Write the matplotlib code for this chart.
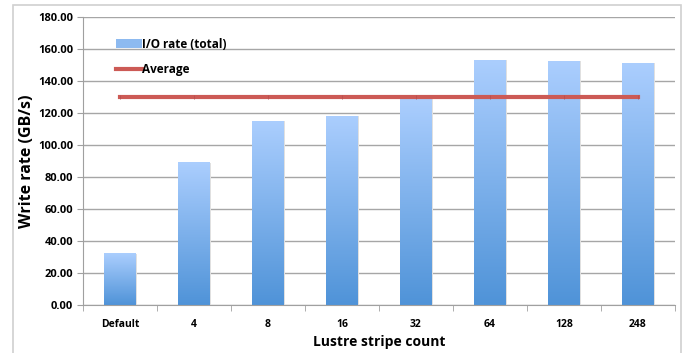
import numpy as np
import matplotlib.pyplot as plt
from matplotlib.colors import LinearSegmentedColormap
from matplotlib.patches import Patch, Rectangle
from matplotlib.lines import Line2D

categories = ["Default", "4", "8", "16", "32", "64", "128", "248"]
io_rate = [32.0, 89.0, 115.0, 118.0, 128.5, 153.0, 152.5, 151.2]
average = 129.7

plt.rcParams["font.family"] = ["Open Sans", "DejaVu Sans"]
plt.rcParams["font.weight"] = "bold"

fig = plt.figure(figsize=(6.85, 3.53), dpi=100)
ax = fig.add_axes([83 / 685, 1 - 305 / 353, 592 / 685, 288 / 353])

# outer chart frame
fig.patches.append(Rectangle((13 / 685, -0.02), 668 / 685, 1 - 5 / 353 + 0.02,
                             transform=fig.transFigure, fill=False,
                             edgecolor="#d0d0d0", lw=1.2))

x = np.arange(len(categories))
width = 0.42
cmap = LinearSegmentedColormap.from_list("bar", ["#4f93d8", "#abcefe"])
grad = np.linspace(0, 1, 256).reshape(-1, 1)
for xi, h in zip(x, io_rate):
    ax.imshow(grad, cmap=cmap, origin="lower", aspect="auto",
              extent=[xi - width / 2, xi + width / 2, 0, h], zorder=2)
    # faint shadow
    ax.add_patch(Rectangle((xi + width / 2, 0), 0.02, h, color="#e0e0e0", zorder=1.5, lw=0))

ax.plot(x, [average] * len(x), color="#cc5a55", lw=3, zorder=3,
        marker="|", markersize=3, markeredgecolor="#b85050", markeredgewidth=0.6)

ax.set_xlim(-0.5, 7.5)
ax.set_ylim(0, 180)
ax.set_yticks(np.arange(0, 181, 20))
ax.set_yticklabels([f"{v:.2f}" for v in np.arange(0, 181, 20)], fontsize=8, fontweight="bold")
ax.set_xticks(x)
ax.set_xticklabels(categories, fontsize=7.5, fontweight="bold")
ax.set_xticks(np.arange(-0.5, 8.0, 1), minor=True)
ax.tick_params(axis="x", which="major", length=0, pad=10)
ax.tick_params(axis="x", which="minor", length=4, color="#a0a0a0", direction="out")
ax.tick_params(axis="y", length=4, color="#a0a0a0", pad=3)
ax.grid(axis="y", color="#a6a6a6", lw=1, zorder=0)
ax.set_axisbelow(True)
for s in ["top", "right"]:
    ax.spines[s].set_visible(False)
for s in ["left", "bottom"]:
    ax.spines[s].set_color("#a0a0a0")

ax.set_ylabel("Write rate (GB/s)", fontsize=11.5, fontweight="bold", labelpad=2)
ax.set_xlabel("Lustre stripe count", fontsize=10, fontweight="bold", labelpad=4)

handles = [Patch(facecolor="#8dbaf0", edgecolor="none"),
           Line2D([0], [0], color="#cc5a55", lw=3)]
ax.legend(handles, ["I/O rate (total)", "Average"], loc="upper left",
          bbox_to_anchor=(0.037, 0.965), frameon=False, handlelength=2.2,
          handletextpad=0.05, labelspacing=1.05, prop={"size": 8.5, "weight": "bold"})

fig.savefig("out.png", dpi=100)
